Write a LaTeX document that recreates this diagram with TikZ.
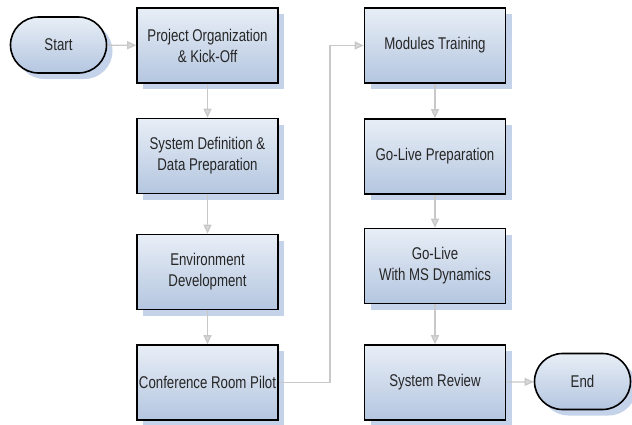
\documentclass[tikz,border=0pt]{standalone}
\usepackage{fontspec}
\setmainfont{Liberation Sans}[FakeStretch=0.78]
\usetikzlibrary{arrows.meta,shadows,shapes.misc}
\definecolor{boxtop}{RGB}{232,238,246}
\definecolor{boxbot}{RGB}{180,198,224}
\definecolor{shad}{RGB}{196,210,234}
\definecolor{conn}{RGB}{200,200,200}
\tikzset{
  every node/.style={font=\fontsize{17}{21}\selectfont, align=center, text=black!85},
  stepbox/.style={draw=black, line width=1.6pt, minimum width=141pt, minimum height=75pt,
    inner sep=0pt, top color=boxtop, bottom color=boxbot,
    drop shadow={shadow xshift=6pt, shadow yshift=-6pt, fill=shad, opacity=1}},
  termbox/.style={stepbox, rounded rectangle, minimum width=96pt, minimum height=56pt},
  flow/.style={draw=conn, line width=1.3pt, -{Triangle[length=9pt,width=8pt,fill=conn!70!white]}}
}
\begin{document}
\begin{tikzpicture}[x=1pt,y=-1pt]
\useasboundingbox (0,0) rectangle (632,424);
\node[termbox] (start) at (58.5,45) {Start};
\node[stepbox] (po) at (207.5,45.5) {Project Organization\\\& Kick-Off};
\node[stepbox] (sd) at (207.5,156) {System Definition \&\\Data Preparation};
\node[stepbox] (ed) at (207.5,272) {Environment\\Development};
\node[stepbox] (crp) at (207.5,382.5) {Conference Room Pilot};
\node[stepbox] (mt) at (435,45.5) {Modules Training};
\node[stepbox] (glp) at (435,156.5) {Go-Live Preparation};
\node[stepbox] (glms) at (435,266) {Go-Live\\With MS Dynamics};
\node[stepbox] (sr) at (435,382.5) {System Review};
\node[termbox] (end) at (582.5,381.5) {End};
\coordinate (bend) at (330,0);
\draw[flow] (start) -- (po);
\draw[flow] (po) -- (sd);
\draw[flow] (sd) -- (ed);
\draw[flow] (ed) -- (crp);
\draw[flow] (crp.east) -- (crp.east -| bend) -- (mt.west -| bend) -- (mt.west);
\draw[flow] (mt) -- (glp);
\draw[flow] (glp) -- (glms);
\draw[flow] (glms) -- (sr);
\draw[flow] (sr) -- (end);
\end{tikzpicture}
\end{document}
